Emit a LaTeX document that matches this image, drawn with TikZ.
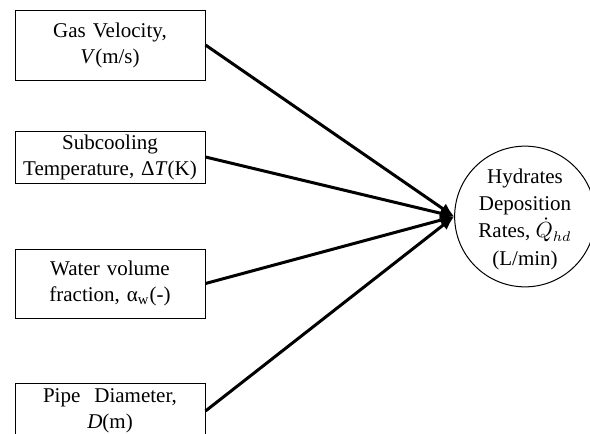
\documentclass[tikz,border=0pt]{standalone}
\usepackage{fontspec}
\setmainfont{Liberation Serif}
\usetikzlibrary{arrows.meta}

\begin{document}
\begin{tikzpicture}[x=0.5pt, y=-0.5pt, >={Latex[length=7pt,width=6pt]},
  default/.style={draw=black, line width=0.5pt, solid, fill=white,
    align=center, inner sep=0pt, font=\fontsize{10.5}{13}\selectfont},
  inbox/.style={default, rectangle, minimum width=95pt, text width=95pt},
  link/.style={->, line width=1.5pt}]
\useasboundingbox (0,0) rectangle (590,434);
\clip (0,0) rectangle (590,434);
\node[inbox, minimum height=35pt] (L1A) at (110, 45) {Gas Velocity,\\\textit{V}(m/s)};
\node[inbox, minimum height=26pt] (L1B) at (110, 157) {Subcooling\\Temperature,~Δ\textit{T}(K)};
\node[inbox, minimum height=34.5pt] (L1C) at (110, 283.5) {Water volume\\fraction, α\textsubscript{w}(-)};
\node[inbox, minimum height=28pt] (L1D) at (110, 411) {Pipe\ \ Diameter,\\\textit{D}(m)};
\node[default, circle, minimum size=68pt, font=\fontsize{10.5}{13.6}\selectfont] (L2A) at (525, 216.5) {\rule{0pt}{10pt}Hydrates\\Deposition\\Rates, $\dot{Q}_{hd}$\\(L/min)};
\draw [link] (L1A.east) -- (L2A.west) ;
\draw [link] (L1B.east) -- (L2A.west) ;
\draw [link] (L1C.east) -- (L2A.west) ;
\draw [link] (L1D.east) -- (L2A.west) ;
\end{tikzpicture}
\end{document}
